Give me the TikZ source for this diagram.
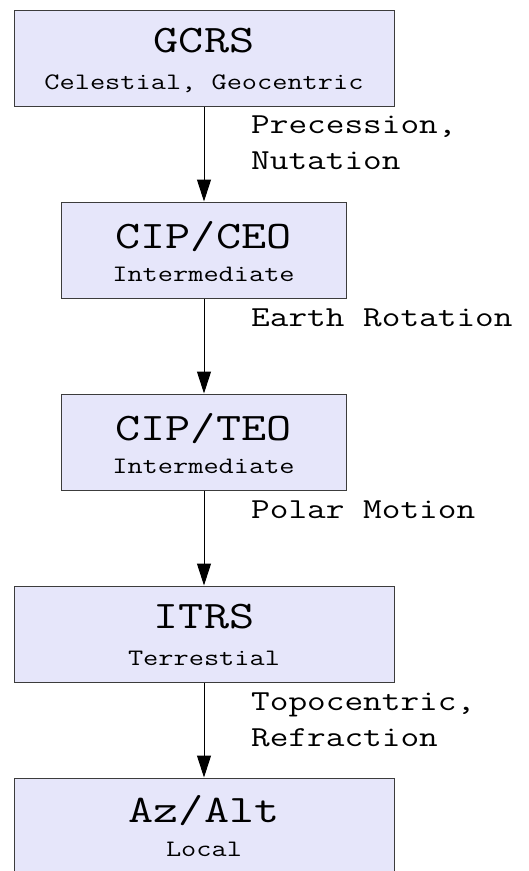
\documentclass[tikz,border=0pt]{standalone}
\usepackage{fontspec}
\usepackage{graphicx}
\usetikzlibrary{arrows.meta}
\definecolor{boxfill}{RGB}{230,230,250}
\definecolor{boxline}{RGB}{60,60,60}
\newcommand\widetxt[1]{\scalebox{1.25}[1]{#1}}
\tikzset{
  framebox/.style={draw=boxline, fill=boxfill, line width=1pt, rectangle, inner sep=0pt, minimum height=96pt},
  widebox/.style={framebox, minimum width=380pt},
  narrowbox/.style={framebox, minimum width=285pt},
  titletext/.style={anchor=base, inner sep=0pt, font=\ttfamily\fontsize{39}{46}\selectfont},
  subtext/.style={anchor=base, inner sep=0pt, font=\ttfamily\fontsize{23.6}{28}\selectfont},
  steplabel/.style={anchor=base west, inner sep=0pt, align=left, font=\ttfamily\fontsize{29}{36}\selectfont},
  flow/.style={line width=1pt, -{Triangle[width=14pt,length=22pt]}},
}
\begin{document}
\begin{tikzpicture}[x=1pt,y=-1pt]
\useasboundingbox (0,0) rectangle (529,871);
% boxes
\node[widebox]   (gcrs) at (204,58)  {};
\node[narrowbox] (cceo) at (203.5,250) {};
\node[narrowbox] (cteo) at (203.5,442) {};
\node[widebox]   (itrs) at (204,634) {};
\node[widebox]   (azal) at (204,826) {};
% titles
\node[titletext] (t1) at ([yshift=-43pt]gcrs.north) {\widetxt{GCRS}};
\node[subtext]   (s1) at ([yshift=-80pt]gcrs.north) {\widetxt{Celestial, Geocentric}};
\node[titletext] (t2) at ([yshift=-47pt]cceo.north) {\widetxt{CIP/CEO}};
\node[subtext]   (s2) at ([yshift=-80pt]cceo.north) {\widetxt{Intermediate}};
\node[titletext] (t3) at ([yshift=-47pt]cteo.north) {\widetxt{CIP/TEO}};
\node[subtext]   (s3) at ([yshift=-80pt]cteo.north) {\widetxt{Intermediate}};
\node[titletext] (t4) at ([yshift=-43pt]itrs.north) {\widetxt{ITRS}};
\node[subtext]   (s4) at ([yshift=-80pt]itrs.north) {\widetxt{Terrestial}};
\node[titletext] (t5) at ([yshift=-45pt]azal.north) {\widetxt{Az/Alt}};
\node[subtext]   (s5) at ([yshift=-79pt]azal.north) {\widetxt{Local}};
% connectors
\draw[flow] (gcrs.south -| 204,0) -- (cceo.north -| 204,0);
\draw[flow] (cceo.south -| 204,0) -- (cteo.north -| 204,0);
\draw[flow] (cteo.south -| 204,0) -- (itrs.north -| 204,0);
\draw[flow] (itrs.south -| 204,0) -- (azal.north -| 204,0);
% labels
\node[steplabel] (l1) at (251,169) {\widetxt{Precession,}\\\widetxt{Nutation}};
\node[steplabel] (l2) at (251,326) {\widetxt{Earth Rotation}};
\node[steplabel] (l3) at (251,518) {\widetxt{Polar Motion}};
\node[steplabel] (l4) at (251,746) {\widetxt{Topocentric,}\\\widetxt{Refraction}};
\end{tikzpicture}
\end{document}
